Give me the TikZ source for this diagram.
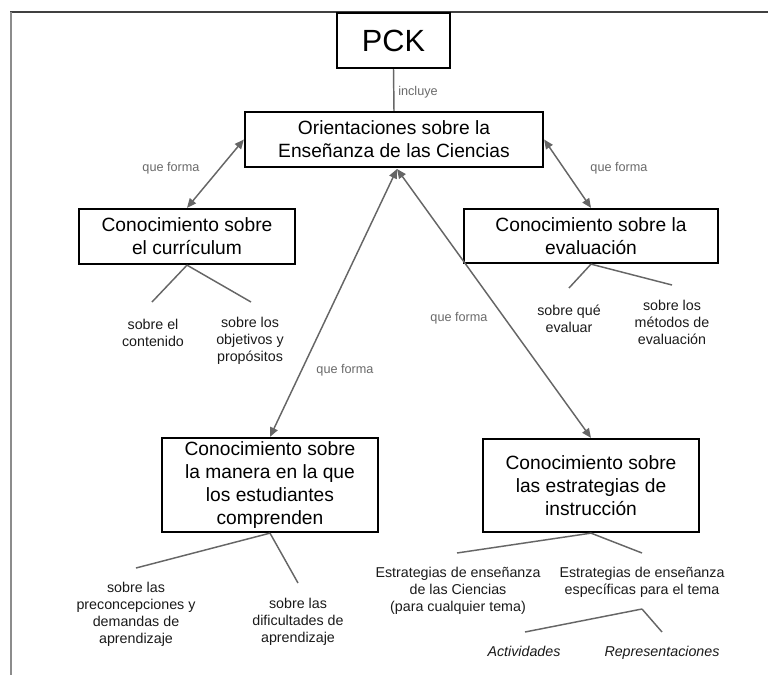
\documentclass[tikz,border=0pt]{standalone}
\usepackage{fontspec}
\setmainfont{Liberation Sans}
\usetikzlibrary{arrows.meta}
\definecolor{edgegray}{HTML}{666666}
\definecolor{labgray}{HTML}{6A6A6A}
\definecolor{leaftext}{HTML}{1A1A1A}
\begin{document}
\begin{tikzpicture}[x=0.75pt,y=-0.75pt,
  box/.style={draw=black,line width=1.7pt,fill=white,inner sep=0pt,align=center,
    font=\fontsize{14.4}{17.25}\selectfont},
  leaf/.style={inner sep=0pt,align=center,text=leaftext,font=\fontsize{10.7}{12.75}\selectfont},
  rel/.style={inner sep=0pt,text=labgray,font=\fontsize{9.5}{11}\selectfont},
  conn/.style={draw=edgegray,line width=1.1pt},
  biarrow/.style={conn,{Triangle[length=7pt,width=6pt]}-{Triangle[length=7pt,width=6pt]},fill=edgegray},
]
\useasboundingbox (0,0) rectangle (768,675);
% frame
\draw[draw=black!75,line width=1pt] (10,12) -- (768,12);
\draw[draw=black!45,line width=1.5pt] (11,12) -- (11,675);

% boxes
\node[box,minimum width=84.75pt,minimum height=41.25pt,font=\fontsize{23}{26}\selectfont] (pck) at (393.5,40.5) {PCK};
\node[box,minimum width=223.5pt,minimum height=41.25pt] (ori) at (394,139.5) {Orientaciones sobre la\\Enseñanza de las Ciencias};
\node[box,minimum width=162pt,minimum height=41.25pt] (cur) at (187,236.5) {Conocimiento sobre\\el currículum};
\node[box,minimum width=190.5pt,minimum height=40.5pt] (eva) at (591,236) {Conocimiento sobre la\\evaluación};
\node[box,minimum width=162pt,minimum height=70.5pt] (com) at (270,485) {Conocimiento sobre\\la manera en la que\\los estudiantes\\comprenden};
\node[box,minimum width=162pt,minimum height=69.75pt] (est) at (591,485.5) {Conocimiento sobre\\las estrategias de\\instrucción};

% connectors between boxes
\draw[conn] (pck.south) -- (ori.north);
\node[rel,anchor=west] (inc) at (398,92) {incluye};
\draw[biarrow] (ori.west) -- (cur.north);
\draw[biarrow] (ori.east) -- (eva.north);
\coordinate (apex) at (397,169);
\draw[biarrow] (apex) -- (com.north);
\draw[biarrow] (apex) -- (est.north);
\node[rel] (qf1) at (171,168) {que forma};
\node[rel] (qf2) at (619,168) {que forma};
\node[rel] (qf3) at (345,370) {que forma};
\node[rel] (qf4) at (459,318) {que forma};

% leaves
\node[leaf] (cont) at (153,333) {sobre el\\contenido};
\node[leaf] (obj) at (250,341) {sobre los\\objetivos y\\propósitos};
\node[leaf] (qev) at (569,319) {sobre qué\\evaluar};
\node[leaf] (met) at (672,322.5) {sobre los\\métodos de\\evaluación};
\node[leaf] (pre) at (136,614.5) {sobre las\\preconcepciones y\\demandas de\\aprendizaje};
\node[leaf] (dif) at (298,622) {sobre las\\dificultades de\\aprendizaje};
\node[leaf] (cien) at (458,591) {Estrategias de enseñanza\\de las Ciencias\\(para cualquier tema)};
\node[leaf] (esp) at (642,582.5) {Estrategias de enseñanza\\específicas para el tema};
\node[leaf,anchor=base,font=\fontsize{10.7}{12.75}\selectfont\itshape] (act) at (524,656.5) {Actividades};
\node[leaf,anchor=base,font=\fontsize{10.7}{12.75}\selectfont\itshape] (rep) at (662,656.5) {Representaciones};

% branch ends
\coordinate (c1) at (152,302);
\coordinate (c2) at (251,302);
\coordinate (e1) at (569,288);
\coordinate (e2) at (672,285);
\coordinate (m1) at (136,568);
\coordinate (m2) at (298,583);
\coordinate (s1) at (457,553);
\coordinate (s2) at (642,553);
\coordinate (t0) at (642,609);
\coordinate (t1) at (525,632);
\coordinate (t2) at (662,632);

\draw[conn] (cur.south) -- (c1);
\draw[conn] (cur.south) -- (c2);
\draw[conn] (eva.south) -- (e1);
\draw[conn] (eva.south) -- (e2);
\draw[conn] (com.south) -- (m1);
\draw[conn] (com.south) -- (m2);
\draw[conn] (est.south) -- (s1);
\draw[conn] (est.south) -- (s2);
\draw[conn] (t0) -- (t1);
\draw[conn] (t0) -- (t2);
\end{tikzpicture}
\end{document}
